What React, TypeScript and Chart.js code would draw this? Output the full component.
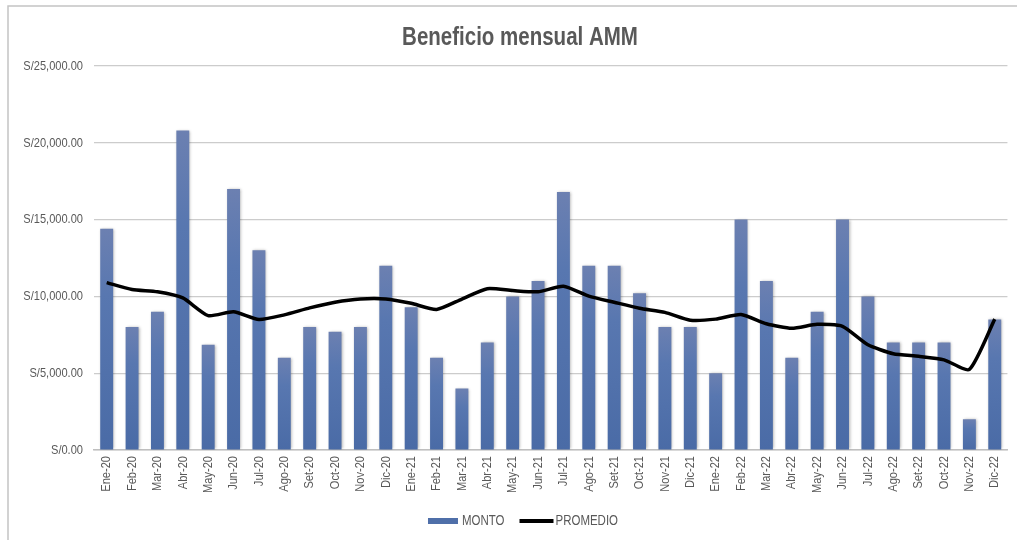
import React, { useEffect, useRef } from "react";
import { Chart, registerables } from "chart.js";

Chart.register(...registerables);

const TITLE = "Beneficio mensual AMM";
const categories = [
  "Ene-20", "Feb-20", "Mar-20", "Abr-20", "May-20", "Jun-20", "Jul-20", "Ago-20", "Set-20", "Oct-20", "Nov-20", "Dic-20",
  "Ene-21", "Feb-21", "Mar-21", "Abr-21", "May-21", "Jun-21", "Jul-21", "Ago-21", "Set-21", "Oct-21", "Nov-21", "Dic-21",
  "Ene-22", "Feb-22", "Mar-22", "Abr-22", "May-22", "Jun-22", "Jul-22", "Ago-22", "Set-22", "Oct-22", "Nov-22", "Dic-22",
];
const monto = [
  14400, 8000, 9000, 20800, 6850, 17000, 13000, 6000, 8000, 7700, 8000, 12000,
  9300, 6000, 4000, 7000, 10000, 11000, 16800, 12000, 12000, 10200, 8000, 8000,
  5000, 15000, 11000, 6000, 9000, 15000, 10000, 7000, 7000, 7000, 2000, 8500,
];
const promedio = [
  10900, 10450, 10300, 9900, 8750, 9000, 8500, 8800, 9250, 9620, 9830, 9830,
  9550, 9150, 9830, 10500, 10380, 10300, 10660, 10020, 9620, 9230, 8960, 8450,
  8520, 8820, 8220, 7920, 8180, 8050, 6850, 6270, 6100, 5870, 5250, 8520,
];
const yTicks = [0, 5000, 10000, 15000, 20000, 25000];
const seriesNames = ["MONTO", "PROMEDIO"];

const FONT = "'Liberation Sans', Arial, sans-serif";
const NARROW = 0.82;
const TEXT = "#595959";
const BAR = "#4F6FA9";

const fmt = (v: number) =>
  "S/" + v.toLocaleString("en-US", { minimumFractionDigits: 2, maximumFractionDigits: 2 });

function narrowText(ctx: any) {
  if (ctx.__narrow) return;
  ctx.__narrow = true;
  const fill = ctx.fillText.bind(ctx);
  const measure = ctx.measureText.bind(ctx);
  ctx.fillText = (text: string, x: number, y: number, maxWidth?: number) => {
    ctx.save();
    ctx.translate(x, y);
    ctx.scale(NARROW, 1);
    if (maxWidth !== undefined) fill(text, 0, 0, maxWidth / NARROW);
    else fill(text, 0, 0);
    ctx.restore();
  };
  ctx.measureText = (text: string) => {
    const m = measure(text);
    return {
      width: m.width * NARROW,
      actualBoundingBoxLeft: m.actualBoundingBoxLeft * NARROW,
      actualBoundingBoxRight: m.actualBoundingBoxRight * NARROW,
      actualBoundingBoxAscent: m.actualBoundingBoxAscent,
      actualBoundingBoxDescent: m.actualBoundingBoxDescent,
      fontBoundingBoxAscent: m.fontBoundingBoxAscent,
      fontBoundingBoxDescent: m.fontBoundingBoxDescent,
    };
  };
}

export default function App() {
  const ref = useRef<HTMLCanvasElement | null>(null);
  useEffect(() => {
    if (!ref.current) return;
    const ctx2d = ref.current.getContext("2d");
    narrowText(ctx2d);
    const frame = {
      id: "frame",
      beforeDraw(chart: any) {
        const c = chart.ctx;
        c.save();
        c.fillStyle = "#ffffff";
        c.fillRect(0, 0, chart.width, chart.height);
        c.strokeStyle = "#C4C4C4";
        c.lineWidth = 1.5;
        c.beginPath();
        c.moveTo(8, chart.height);
        c.lineTo(8, 6);
        c.lineTo(chart.width, 6);
        c.stroke();
        // title
        c.font = `bold 25px ${FONT}`;
        c.fillStyle = TEXT;
        c.textAlign = "center";
        c.textBaseline = "middle";
        c.fillText(TITLE, 520, 38);
        c.restore();
      },
      beforeDatasetDraw(chart: any, args: any) {
        if (args.index === 0) {
          const c = chart.ctx;
          c.save();
          c.shadowColor = "rgba(0,0,0,0.35)";
          c.shadowBlur = 3;
          c.shadowOffsetX = 1;
          c.shadowOffsetY = 0;
        }
      },
      afterDatasetDraw(chart: any, args: any) {
        if (args.index === 0) chart.ctx.restore();
      },
      afterDraw(chart: any) {
        const c = chart.ctx;
        c.save();
        c.font = `14px ${FONT}`;
        c.textBaseline = "middle";
        c.textAlign = "left";
        const y = 521;
        const w1 = c.measureText(seriesNames[0]).width;
        const w2 = c.measureText(seriesNames[1]).width;
        const total = 30 + 4 + w1 + 15 + 34 + 2 + w2;
        let x = 523 - total / 2;
        c.fillStyle = BAR;
        c.fillRect(x, y - 3, 30, 6);
        x += 34;
        c.fillStyle = TEXT;
        c.fillText(seriesNames[0], x, y);
        x += w1 + 15;
        c.strokeStyle = "#000";
        c.lineWidth = 4;
        c.beginPath();
        c.moveTo(x, y);
        c.lineTo(x + 34, y);
        c.stroke();
        x += 36;
        c.fillText(seriesNames[1], x, y);
        c.restore();
      },
    };

    const barColor = (ctx: any) => {
      const chart = ctx.chart;
      const area = chart.chartArea;
      if (!area || ctx.type !== "data") return BAR;
      const yS = chart.scales.y;
      const top = yS.getPixelForValue(ctx.raw);
      const bottom = yS.getPixelForValue(0);
      const g = chart.ctx.createLinearGradient(0, top, 0, bottom);
      g.addColorStop(0, "#6C80B1");
      g.addColorStop(0.3, "#5877B0");
      g.addColorStop(1, "#4A6BA6");
      return g;
    };

    const chart = new Chart(ctx2d as any, {
      type: "bar",
      data: {
        labels: categories,
        datasets: [
          {
            type: "bar",
            label: seriesNames[0],
            data: monto,
            backgroundColor: barColor,
            barPercentage: 0.51,
            categoryPercentage: 1,
            order: 2,
          },
          {
            type: "line",
            label: seriesNames[1],
            data: promedio,
            borderColor: "#000000",
            borderWidth: 3.5,
            pointRadius: 0,
            tension: 0.2,
            fill: false,
            order: 1,
          } as any,
        ],
      },
      options: {
        animation: false,
        responsive: false,
        layout: { padding: { left: 8, right: 3, top: 66, bottom: 0 } },
        plugins: {
          legend: { display: false },
          tooltip: { enabled: false },
          title: { display: false },
        },
        scales: {
          x: {
            grid: { display: false, drawTicks: false },
            border: { display: true, color: "#BFBFBF", width: 1.5 },
            ticks: {
              color: TEXT,
              font: { family: FONT, size: 13.5 },
              minRotation: 90,
              maxRotation: 90,
              padding: 6,
              autoSkip: false,
            },
            afterFit: (s: any) => {
              s.height = 90;
            },
          },
          y: {
            min: 0,
            max: 25000,
            afterBuildTicks: (s: any) => {
              s.ticks = yTicks.map((v) => ({ value: v }));
            },
            grid: { color: "#CCCCCC", lineWidth: 1.2, drawTicks: false },
            border: { display: false },
            ticks: {
              color: TEXT,
              font: { family: FONT, size: 13.5 },
              padding: 11,
              callback: (v: any) => fmt(Number(v)),
            },
            afterFit: (s: any) => {
              s.width = 86;
            },
          },
        },
      },
      plugins: [frame],
    });
    return () => chart.destroy();
  }, []);

  return (
    <div style={{ position: "fixed", left: 0, top: 0, width: 1017, height: 540, background: "#fff" }}>
      <canvas ref={ref} width={1017} height={540} style={{ display: "block" }} />
    </div>
  );
}
